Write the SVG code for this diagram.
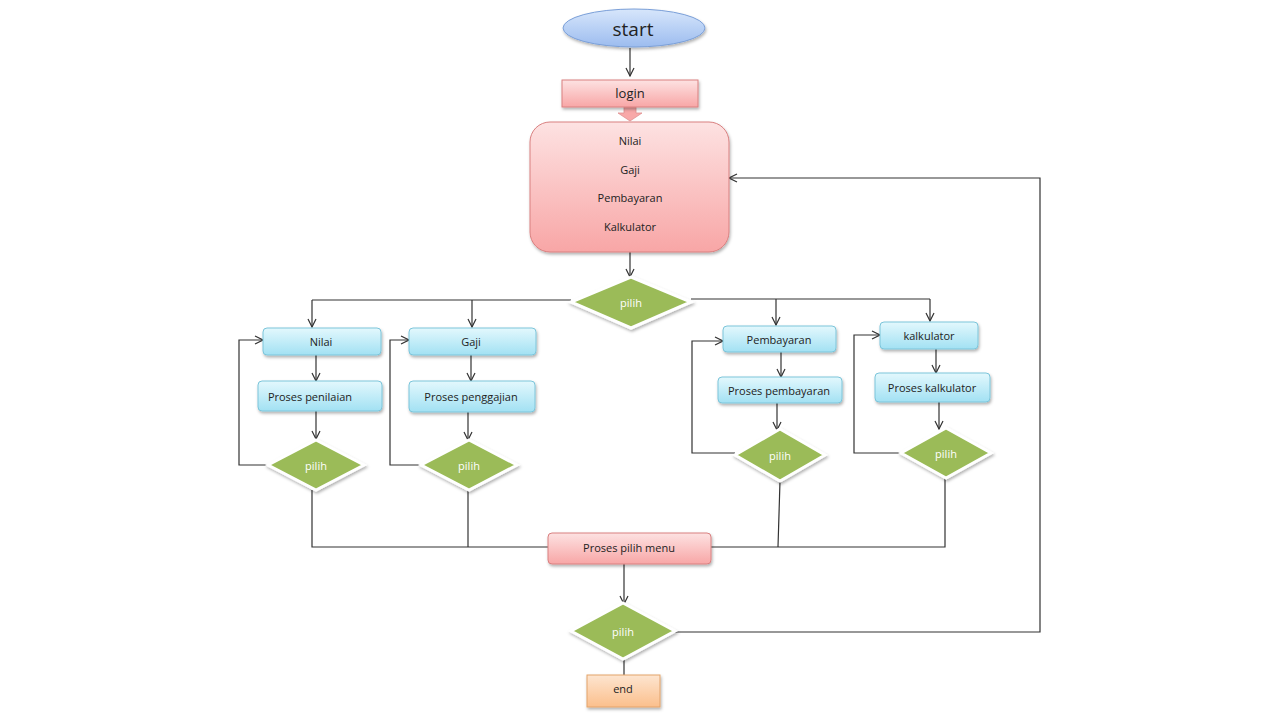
<svg xmlns="http://www.w3.org/2000/svg" width="1280" height="720" viewBox="0 0 1280 720">
<defs>
<linearGradient id="gBlueE" x1="0" y1="0" x2="0" y2="1"><stop offset="0" stop-color="#d7e6fb"/><stop offset="1" stop-color="#9cbcef"/></linearGradient>
<linearGradient id="gPink" x1="0" y1="0" x2="0" y2="1"><stop offset="0" stop-color="#fde2e2"/><stop offset="1" stop-color="#f8a6a6"/></linearGradient>
<linearGradient id="gCyan" x1="0" y1="0" x2="0" y2="1"><stop offset="0" stop-color="#e3f8fd"/><stop offset="1" stop-color="#a2e1f3"/></linearGradient>
<linearGradient id="gOrange" x1="0" y1="0" x2="0" y2="1"><stop offset="0" stop-color="#fde5d0"/><stop offset="1" stop-color="#fbbf8c"/></linearGradient>
<filter id="sh" x="-20%" y="-20%" width="140%" height="150%"><feDropShadow dx="1" dy="2" stdDeviation="1.5" flood-color="#000" flood-opacity="0.3"/></filter>
<marker id="ar" viewBox="0 0 10 10" refX="9" refY="5" markerWidth="10" markerHeight="10" markerUnits="userSpaceOnUse" orient="auto"><path d="M1,1 L9,5 L1,9" fill="none" stroke="#333" stroke-width="1.2"/></marker>
</defs>
<style>
text{font-family:"Open Sans","Noto Sans","Liberation Sans",sans-serif;fill:#222;text-anchor:middle;dominant-baseline:central;font-size:11px}
.cy{fill:url(#gCyan);stroke:#7cc5da;stroke-width:1;filter:url(#sh)}
.pk{fill:url(#gPink);stroke:#d98080;stroke-width:1;filter:url(#sh)}
.dm{fill:#9bbb59;stroke:#fff;stroke-width:3;filter:url(#sh)}
.dt{fill:#fff;font-size:11px}
.ln{fill:none;stroke:#333;stroke-width:1.2}
.la{fill:none;stroke:#333;stroke-width:1.2;marker-end:url(#ar)}
</style>
<rect width="1280" height="720" fill="#fff"/>
<g id="connectors">
<path class="la" d="M630,48 V76"/>
<path d="M624,107 H636 V113 H642 L630,121 L618,113 H624 Z" fill="#f8a8a8" stroke="#e09090" stroke-width="0.8"/>
<path class="la" d="M630,252 V277"/>
<path class="ln" d="M571,300 H312"/>
<path class="la" d="M312,300 V327"/>
<path class="la" d="M472,300 V327"/>
<path class="ln" d="M691,299 H930"/>
<path class="la" d="M776,299 V325"/>
<path class="la" d="M930,299 V321"/>
<path class="la" d="M316,355 V381"/>
<path class="la" d="M316,411 V439"/>
<path class="la" d="M268,465 H239 V340 H263"/>
<path class="la" d="M471,355 V381"/>
<path class="la" d="M468,412 V440"/>
<path class="la" d="M421,465 H390 V340 H409"/>
<path class="la" d="M781,352 V377"/>
<path class="la" d="M777,403 V430"/>
<path class="la" d="M735,453 H692 V341 H723"/>
<path class="la" d="M936,349 V373"/>
<path class="la" d="M939,402 V429"/>
<path class="la" d="M901,453 H854 V335 H880"/>
<path class="ln" d="M312,490 V547 H548"/>
<path class="ln" d="M468,490 V547"/>
<path class="ln" d="M780,481 L778,547"/>
<path class="ln" d="M945,478 V547 H711"/>
<path class="la" d="M624,564 V604"/>
<path class="la" d="M675,632 H1040 V178 H729"/>
<path class="ln" d="M624,659 V675"/>
</g>
<g id="start"><ellipse cx="634" cy="28" rx="71" ry="19" fill="url(#gBlueE)" stroke="#7a9fd8" stroke-width="1" filter="url(#sh)"/><text x="633" y="29" style="font-size:19px">start</text></g>
<g id="login"><rect class="pk" x="562" y="80" width="136" height="27"/><text x="630" y="93" style="font-size:13px">login</text></g>
<g id="menu"><rect class="pk" x="530" y="122" width="199" height="130" rx="20"/><text x="630" y="140">Nilai</text><text x="630" y="169">Gaji</text><text x="630" y="197">Pembayaran</text><text x="630" y="226">Kalkulator</text></g>
<g id="pilih-main"><polygon class="dm" points="631,277 691,302 631,328 571,302"/><text class="dt" x="631" y="302">pilih</text></g>
<g id="nilai"><rect class="cy" x="263" y="328" width="118" height="27" rx="4"/><text x="321" y="341">Nilai</text></g>
<g id="proses-penilaian"><rect class="cy" x="258" y="381" width="124" height="30" rx="4"/><text x="310" y="396">Proses penilaian</text></g>
<g id="pilih-nilai"><polygon class="dm" points="316,440 364,465 316,490 268,465"/><text class="dt" x="316" y="465">pilih</text></g>
<g id="gaji"><rect class="cy" x="409" y="328" width="127" height="27" rx="4"/><text x="471" y="341">Gaji</text></g>
<g id="proses-penggajian"><rect class="cy" x="409" y="381" width="126" height="31" rx="4"/><text x="471" y="396">Proses penggajian</text></g>
<g id="pilih-gaji"><polygon class="dm" points="469,440 517,465 469,490 421,465"/><text class="dt" x="469" y="465">pilih</text></g>
<g id="pembayaran"><rect class="cy" x="723" y="326" width="113" height="26" rx="4"/><text x="779" y="339">Pembayaran</text></g>
<g id="proses-pembayaran"><rect class="cy" x="718" y="377" width="124" height="26" rx="4"/><text x="779" y="390">Proses pembayaran</text></g>
<g id="pilih-pembayaran"><polygon class="dm" points="780,429 825,455 780,481 735,455"/><text class="dt" x="780" y="455">pilih</text></g>
<g id="kalkulator"><rect class="cy" x="880" y="322" width="98" height="27" rx="4"/><text x="929" y="335">kalkulator</text></g>
<g id="proses-kalkulator"><rect class="cy" x="875" y="373" width="115" height="29" rx="4"/><text x="932" y="387">Proses kalkulator</text></g>
<g id="pilih-kalkulator"><polygon class="dm" points="946,428 991,453 946,478 901,453"/><text class="dt" x="946" y="453">pilih</text></g>
<g id="proses-pilih-menu"><rect class="pk" x="548" y="533" width="163" height="31" rx="4"/><text x="629" y="547">Proses pilih menu</text></g>
<g id="pilih-end"><polygon class="dm" points="623,603 675,631 623,659 571,631"/><text class="dt" x="623" y="631">pilih</text></g>
<g id="end"><rect x="587" y="675" width="73" height="32" fill="url(#gOrange)" stroke="#e3a36a" stroke-width="1" filter="url(#sh)"/><text x="623" y="688">end</text></g>
</svg>
